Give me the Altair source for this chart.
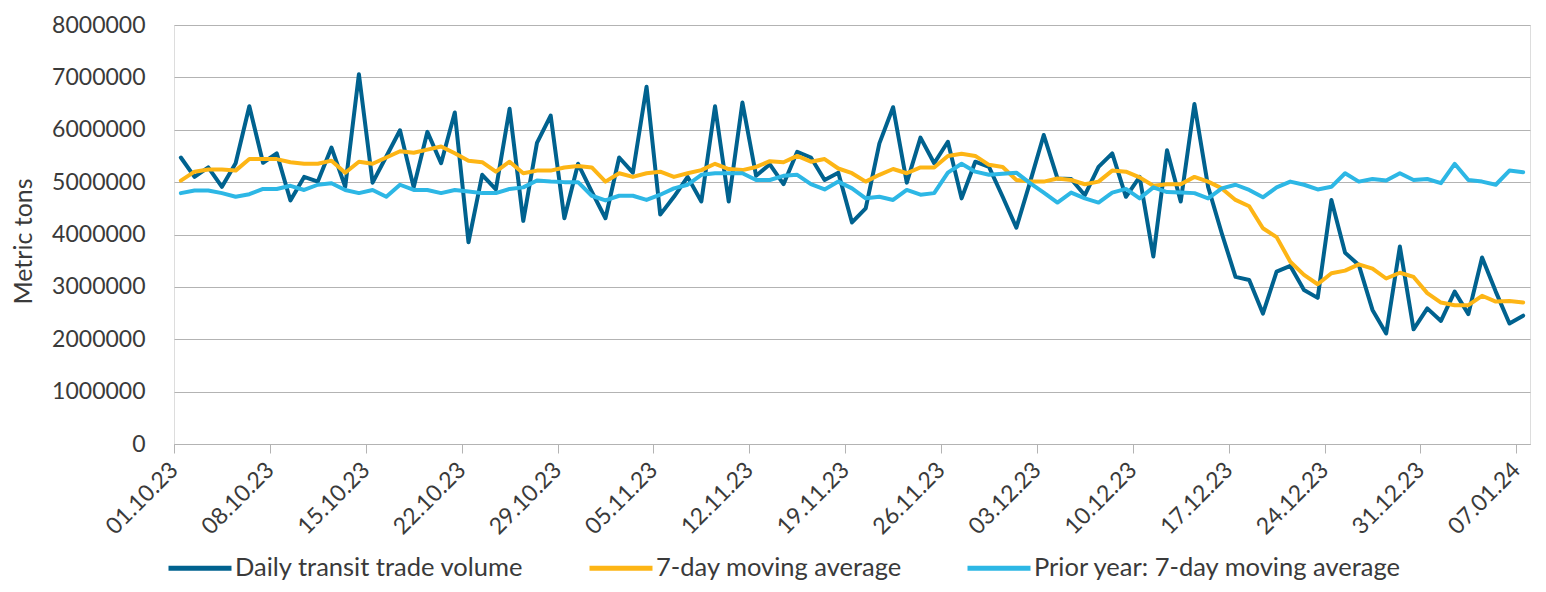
import altair as alt
import pandas as pd

# ---- data ----
dates = pd.date_range("2023-10-01", periods=99, freq="D")

daily = [5470000, 5100000, 5280000, 4910000, 5360000, 6450000, 5370000, 5550000, 4650000, 5100000,
         5010000, 5660000, 4910000, 7060000, 4990000, 5490000, 5990000, 4900000, 5960000, 5360000,
         6330000, 3850000, 5140000, 4860000, 6400000, 4260000, 5750000, 6270000, 4310000, 5350000,
         4820000, 4310000, 5470000, 5180000, 6820000, 4380000, 4720000, 5100000, 4630000, 6450000,
         4630000, 6520000, 5120000, 5340000, 4960000, 5580000, 5470000, 5040000, 5180000, 4230000,
         4500000, 5740000, 6430000, 4990000, 5850000, 5360000, 5770000, 4690000, 5390000, 5290000,
         4720000, 4130000, 5000000, 5900000, 5070000, 5060000, 4750000, 5290000, 5550000, 4720000,
         5100000, 3580000, 5610000, 4630000, 6490000, 4910000, 4020000, 3190000, 3130000, 2490000,
         3290000, 3400000, 2940000, 2790000, 4660000, 3650000, 3420000, 2560000, 2110000, 3770000,
         2190000, 2590000, 2350000, 2910000, 2480000, 3560000, 2910000, 2300000, 2450000]

ma7 = [5030000, 5200000, 5240000, 5240000, 5220000, 5440000, 5440000, 5440000, 5380000, 5350000,
       5350000, 5410000, 5180000, 5390000, 5350000, 5470000, 5590000, 5560000, 5620000, 5680000,
       5550000, 5410000, 5380000, 5200000, 5390000, 5170000, 5220000, 5220000, 5280000, 5310000,
       5280000, 5010000, 5170000, 5100000, 5170000, 5200000, 5100000, 5170000, 5230000, 5350000,
       5250000, 5230000, 5290000, 5400000, 5380000, 5500000, 5390000, 5440000, 5260000, 5170000,
       5010000, 5140000, 5250000, 5170000, 5280000, 5280000, 5500000, 5540000, 5500000, 5330000,
       5290000, 5040000, 5010000, 5010000, 5070000, 5040000, 4960000, 5010000, 5220000, 5200000,
       5090000, 4930000, 4960000, 4960000, 5100000, 5010000, 4880000, 4660000, 4540000, 4120000,
       3950000, 3480000, 3230000, 3050000, 3260000, 3310000, 3430000, 3350000, 3160000, 3270000,
       3190000, 2880000, 2700000, 2650000, 2650000, 2830000, 2720000, 2730000, 2700000]

prior = [4790000, 4840000, 4840000, 4790000, 4720000, 4770000, 4870000, 4870000, 4930000, 4850000,
         4950000, 4980000, 4850000, 4790000, 4850000, 4720000, 4950000, 4850000, 4850000, 4790000,
         4850000, 4820000, 4790000, 4790000, 4870000, 4900000, 5030000, 5010000, 5000000, 5000000,
         4740000, 4650000, 4740000, 4740000, 4660000, 4760000, 4880000, 4950000, 5140000, 5170000,
         5170000, 5170000, 5040000, 5040000, 5120000, 5140000, 4960000, 4860000, 5010000, 4880000,
         4690000, 4720000, 4660000, 4850000, 4760000, 4790000, 5180000, 5350000, 5200000, 5140000,
         5160000, 5180000, 4980000, 4800000, 4610000, 4800000, 4690000, 4610000, 4800000, 4870000,
         4690000, 4900000, 4810000, 4800000, 4790000, 4690000, 4880000, 4950000, 4850000, 4710000,
         4900000, 5010000, 4950000, 4860000, 4910000, 5170000, 5010000, 5060000, 5030000, 5170000,
         5040000, 5060000, 4980000, 5350000, 5040000, 5010000, 4950000, 5220000, 5190000]

series_names = ["Daily transit trade volume", "7-day moving average",
                "Prior year: 7-day moving average"]
series_colors = ["#00628F", "#FDB515", "#2DB7E5"]
y_ticks = [0, 1000000, 2000000, 3000000, 4000000, 5000000, 6000000, 7000000, 8000000]
tick_dates = pd.date_range("2023-10-01", "2024-01-07", freq="7D")

rows = []
for name, vals in zip(series_names, [daily, ma7, prior]):
    for d, v in zip(dates, vals):
        rows.append({"date": d.strftime("%Y-%m-%dT12:00:00"), "series": name, "value": v})
df = pd.DataFrame(rows)

FONT = "Lato"
TXT = "#3a3a3a"
GRID = "#b3b3b3"

x_ticks = [alt.DateTime(year=int(d.year), month=int(d.month), date=int(d.day)) for d in tick_dates]

chart = alt.Chart(df).mark_line(strokeWidth=4, strokeJoin="round", strokeCap="round").encode(
    x=alt.X("date:T",
            scale=alt.Scale(domain=[alt.DateTime(year=2023, month=10, date=1),
                                    alt.DateTime(year=2024, month=1, date=8)]),
            axis=alt.Axis(values=x_ticks, format="%d.%m.%y", labelAngle=-45, title=None,
                          grid=False, domainColor=GRID, tickColor=GRID, tickSize=9,
                          labelFontSize=23, labelFont=FONT, labelColor=TXT,
                          labelAlign="right", labelBaseline="middle", labelPadding=13)),
    y=alt.Y("value:Q",
            scale=alt.Scale(domain=[0, 8000000], nice=False),
            axis=alt.Axis(values=y_ticks, format="d", title="Metric tons", domain=False,
                          ticks=False, labelPadding=29, labelFontSize=23, labelFont=FONT,
                          labelColor=TXT, gridColor=GRID, gridWidth=1,
                          titleFontSize=25, titleFont=FONT, titleColor=TXT,
                          titleFontWeight="normal", titleX=-151, titleY=216,
                          titleBaseline="middle", titleAngle=270)),
    color=alt.Color("series:N", sort=series_names,
                    scale=alt.Scale(domain=series_names, range=series_colors),
                    legend=alt.Legend(orient="none", legendX=-8, legendY=509,
                                      direction="horizontal", title=None,
                                      symbolType="stroke", symbolSize=3969,
                                      symbolStrokeWidth=5, labelFontSize=25.5,
                                      labelFont=FONT, labelColor=TXT, labelOffset=1,
                                      columnPadding=55, padding=0, labelLimit=0)),
).properties(
    width=1356, height=419,
    padding={"left": 166, "top": 17, "right": 8, "bottom": 140},
    autosize=alt.AutoSizeParams(type="none"),
).configure_view(stroke=None).configure(background="white")

chart.save("out.html", embed_options={"renderer": "svg", "actions": False})
